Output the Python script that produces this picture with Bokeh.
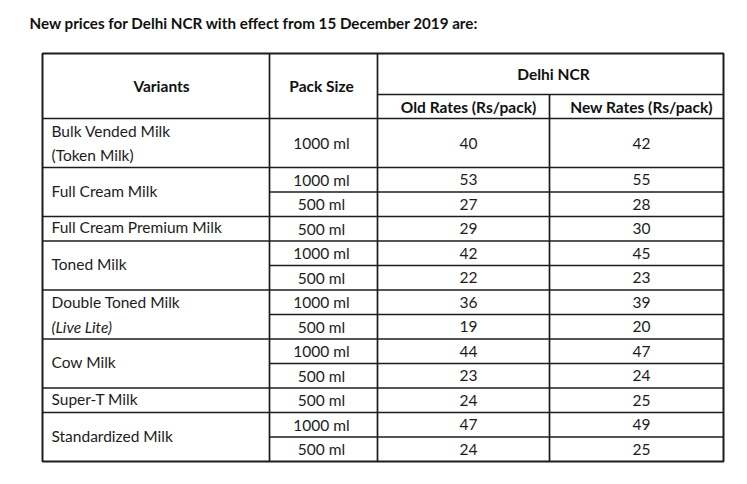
from bokeh.plotting import figure
from bokeh.models import Range1d
from bokeh.core.properties import value
from bokeh.embed import file_html
from bokeh.resources import INLINE

# ---------------- data ----------------
title_text = "New prices for Delhi NCR with effect from 15 December 2019 are:"
header_variants = "Variants"
header_pack = "Pack Size"
header_region = "Delhi NCR"
header_old = "Old Rates (Rs/pack)"
header_new = "New Rates (Rs/pack)"

variants = ["Bulk Vended Milk", "Full Cream Milk", "Full Cream Premium Milk",
            "Toned Milk", "Double Toned Milk", "Cow Milk", "Super-T Milk",
            "Standardized Milk"]
variant_notes = ["(Token Milk)", "", "", "", "(Live Lite)", "", "", ""]
note_italic = [False, False, False, False, True, False, False, False]
pack_sizes = [["1000 ml"], ["1000 ml", "500 ml"], ["500 ml"],
              ["1000 ml", "500 ml"], ["1000 ml", "500 ml"],
              ["1000 ml", "500 ml"], ["500 ml"], ["1000 ml", "500 ml"]]
old_rates = [40, 53, 27, 29, 42, 22, 36, 19, 44, 23, 24, 47, 24]
new_rates = [42, 55, 28, 30, 45, 23, 39, 20, 47, 24, 25, 49, 25]

# ---------------- layout (page pixel space) ----------------
W, H = 731, 468
FONT = "Lato"
INK = "#1c1c1c"
BODY = "15.5px"
col_edges = [42, 269, 377, 549, 723]
text_x = {"var": 51, "pack": 321, "old": 468, "new": 641, "varhead": 161, "region": 553}
table_top, head_mid, head_bot = 53, 94, 118
unit = 24.5

p = figure(width=W, height=H, output_backend="svg", toolbar_location=None,
           x_range=Range1d(0, W), y_range=Range1d(H, 0),
           min_border=0, background_fill_color="white", border_fill_color="white")
p.axis.visible = False
p.grid.visible = False
p.outline_line_color = None

# compute rows
pack_rows = []   # (y_top, y_bot, pack, old, new)
groups = []      # (y_top, y_bot, name, note, italic, n)
y = head_bot
k = 0
for name, note, ital, packs in zip(variants, variant_notes, note_italic, pack_sizes):
    g_top = y
    per = 2 if (len(packs) == 1 and note) else 1
    for pk in packs:
        pack_rows.append((y, y + per * unit, pk, old_rates[k], new_rates[k]))
        k += 1
        y += per * unit
    groups.append((g_top, y, name, note, ital, len(packs)))
table_bot = y

# lines
x0s, y0s, x1s, y1s = [], [], [], []
def seg(a, b, c, d):
    x0s.append(a); y0s.append(b); x1s.append(c); y1s.append(d)

seg(col_edges[2], head_mid, col_edges[4], head_mid)
seg(col_edges[0], head_bot, col_edges[4], head_bot)
for (gt, gb, *_r) in groups[:-1]:
    seg(col_edges[0], gb, col_edges[4], gb)
for (gt, gb, name, note, ital, n) in groups:
    if n > 1:
        for (rt, rb, *_r) in pack_rows:
            if gt < rb < gb:
                seg(col_edges[1], rb, col_edges[4], rb)
seg(col_edges[1], table_top, col_edges[1], table_bot)
seg(col_edges[2], table_top, col_edges[2], table_bot)
seg(col_edges[3], head_mid, col_edges[3], table_bot)
p.segment(x0=x0s, y0=y0s, x1=x1s, y1=y1s, line_color=INK, line_width=1.7)

# outer frame
p.quad(left=[col_edges[0]], right=[col_edges[4]], top=[table_top], bottom=[table_bot],
       fill_color=None, line_color=INK, line_width=2)

# title
p.text(x=[29], y=[22], text=[title_text], text_font=value(FONT), text_font_size="15.2px",
       text_font_style="bold", text_color="#111111", text_baseline="middle", text_align="left")

# headers
hx = [text_x["varhead"], text_x["pack"], text_x["region"], text_x["old"], text_x["new"]]
hy = [85, 85, 73, 106, 106]
ht = [header_variants, header_pack, header_region, header_old, header_new]
p.text(x=hx, y=hy, text=ht, text_font=value(FONT), text_font_size=BODY,
       text_font_style="bold", text_color="#111111", text_baseline="middle", text_align="center")

# body cells
bx, by, bt = [], [], []
for (rt, rb, pk, o, nw) in pack_rows:
    cy = (rt + rb) / 2
    for key, val in (("pack", pk), ("old", str(o)), ("new", str(nw))):
        bx.append(text_x[key]); by.append(cy); bt.append(val)
p.text(x=bx, y=by, text=bt, text_font=value(FONT), text_font_size=BODY,
       text_color=INK, text_baseline="middle", text_align="center")

vx, vy, vt = [], [], []
nx, ny, nt, nix, niy, nit = [], [], [], [], [], []
for (gt, gb, name, note, ital, n) in groups:
    if note:
        half = (gb - gt) / 2
        vx.append(text_x["var"]); vy.append(gt + half / 2); vt.append(name)
        if ital:
            nix.append(text_x["var"]); niy.append(gt + half * 1.5); nit.append(note)
        else:
            nx.append(text_x["var"]); ny.append(gt + half * 1.5); nt.append(note)
    else:
        vx.append(text_x["var"]); vy.append((gt + gb) / 2 - 1.5); vt.append(name)
p.text(x=vx + nx, y=vy + ny, text=vt + nt, text_font=value(FONT), text_font_size=BODY,
       text_color=INK, text_baseline="middle", text_align="left")
p.text(x=nix, y=niy, text=nit, text_font=value(FONT), text_font_size=BODY,
       text_font_style="italic", text_color=INK, text_baseline="middle", text_align="left")

open("out.html", "w").write(file_html(p, INLINE))
